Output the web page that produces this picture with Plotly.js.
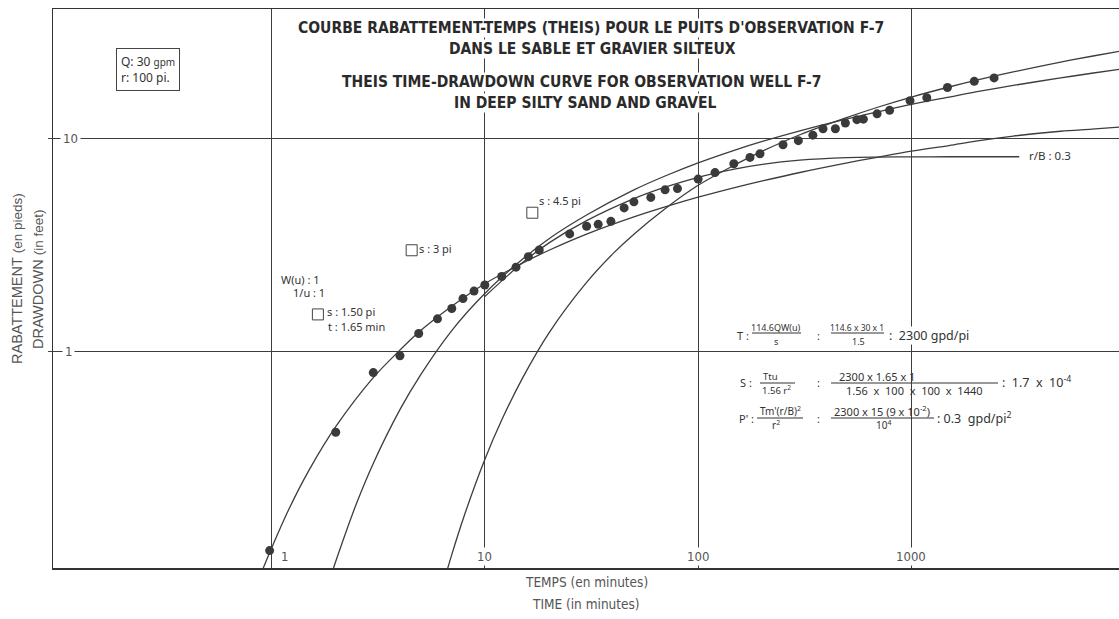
<!DOCTYPE html>
<html>
<head>
<meta charset="utf-8">
<script src="https://cdn.plot.ly/plotly-3.0.1.min.js"></script>
<style>
  html, body { margin: 0; padding: 0; background: #ffffff; }
  #chart { width: 1119px; height: 619px; }
</style>
</head>
<body>
<div id="chart"></div>
<script>
// Observed drawdown in observation well F-7 (time in minutes, drawdown in feet)
const obsTime = [0.98, 2.0, 3.0, 4.0, 4.9, 6.0, 7.0, 7.9, 8.9, 10, 12, 14, 16, 18, 25,
  30, 34, 39, 45, 50, 60, 70, 80, 100, 120, 147, 175, 195, 250, 295,
  345, 385, 440, 490, 555, 595, 690, 790, 985, 1180, 1475, 1970, 2440];
const obsDrawdown = [0.117, 0.42, 0.80, 0.96, 1.22, 1.43, 1.60, 1.78, 1.93, 2.06, 2.26, 2.50, 2.80, 3.01, 3.58,
  3.89, 3.97, 4.10, 4.74, 5.06, 5.31, 5.76, 5.84, 6.47, 6.94, 7.64, 8.18, 8.51, 9.38, 9.80,
  10.4, 11.15, 11.15, 11.86, 12.3, 12.36, 13.1, 13.6, 15.1, 15.6, 17.4, 18.6, 19.3];

// Theis type curve laid on the first match point (s = 1.50 pi, t = 1.65 min)
const curveATime = [0.9, 1, 1.2, 1.5, 2, 3, 4, 5, 7, 10, 15, 20, 30, 50, 70, 100, 150, 200, 300, 500, 700, 1000, 1500, 2000, 3000, 5000, 7000, 9500];
const curveAS = [0.093, 0.120, 0.181, 0.279, 0.446, 0.758, 1.02, 1.26, 1.64, 2.09, 2.61, 3.00, 3.57, 4.30, 4.79, 5.32, 5.92, 6.34, 6.95, 7.71, 8.21, 8.75, 9.30, 9.75, 10.3, 10.85, 11.1, 11.35];

// Type curve on the second match point (s = 3 pi)
const curveBTime = [1.9, 2, 2.5, 3, 4, 5, 7, 10, 15, 20, 30, 50, 70, 100, 150, 200, 300, 500, 700, 1000, 1500, 2000, 3000, 5000, 7000, 9500];
const curveBS = [0.089, 0.104, 0.194, 0.300, 0.536, 0.781, 1.26, 1.88, 2.72, 3.40, 4.39, 5.76, 6.69, 7.71, 8.88, 9.72, 10.9, 12.4, 13.4, 14.5, 15.7, 16.6, 17.8, 19.3, 20.3, 21.2];

// Type curve on the third match point (s = 4.5 pi)
const curveCTime = [6.5, 7, 8, 10, 12, 15, 20, 30, 40, 50, 70, 100, 150, 200, 300, 500, 700, 1000, 1500, 2000, 3000, 5000, 7000, 9500];
const curveCS = [0.087, 0.112, 0.170, 0.313, 0.479, 0.752, 1.23, 2.12, 2.90, 3.57, 4.70, 6.05, 7.58, 8.75, 10.45, 12.6, 14.1, 15.7, 17.5, 18.8, 20.6, 22.9, 24.4, 25.75];

// Leaky-aquifer curve, r/B = 0.3
const leakyTime = [10, 15, 20, 30, 50, 70, 100, 150, 200, 300, 500, 700, 1000, 1500, 2000, 3200];
const leakyS = [1.82, 2.62, 3.25, 4.13, 5.24, 5.93, 6.60, 7.23, 7.59, 7.94, 8.16, 8.21, 8.23, 8.24, 8.24, 8.24];

// Match points
const matchTime = [1.65, 4.54, 16.7];
const matchS = [1.5, 3, 4.5];

// Axis ticks
const xTickVals = [1, 10, 100, 1000];
const xTickText = ['1', '10', '100', '1000'];
const yTickVals = [1, 10];
const yTickText = ['1', '10'];

const X_RANGE = [-1.0243, 3.973];
const Y_RANGE = [-1.0136, 1.609];

const W = 1119, H = 619;
const M = { l: 53, r: 0, t: 9, b: 51 };
const PW = W - M.l - M.r, PH = H - M.t - M.b;

// page pixel -> paper fraction
const px = x => (x - M.l) / PW;
const py = y => (H - M.b - y) / PH;
// data value -> paper fraction through the log axes
const xv = v => (Math.log10(v) - X_RANGE[0]) / (X_RANGE[1] - X_RANGE[0]);
const yv = v => (Math.log10(v) - Y_RANGE[0]) / (Y_RANGE[1] - Y_RANGE[0]);

const INK = '#333333';
const LINE = '#3d3d3d';
const NARROW = '"Liberation Sans Narrow", "DejaVu Sans Condensed", "Roboto", sans-serif';
const ROUND = '"Noto Sans", "DejaVu Sans", sans-serif';
const PLAIN = '"Liberation Sans", Arial, sans-serif';
const SP = '\u00a0';

const curveStyle = { color: LINE, width: 1.3, shape: 'spline', smoothing: 0.9 };

const traces = [
  { x: curveATime, y: curveAS, mode: 'lines', line: curveStyle, hoverinfo: 'skip' },
  { x: curveBTime, y: curveBS, mode: 'lines', line: curveStyle, hoverinfo: 'skip' },
  { x: curveCTime, y: curveCS, mode: 'lines', line: curveStyle, hoverinfo: 'skip' },
  { x: leakyTime, y: leakyS, mode: 'lines', line: curveStyle, hoverinfo: 'skip' },
  { x: obsTime, y: obsDrawdown, mode: 'markers',
    marker: { color: '#3a3a3a', size: 9, line: { width: 0 } } },
  { x: matchTime, y: matchS, mode: 'markers',
    marker: { symbol: 'square-open', color: '#444', size: 11, line: { width: 1, color: '#444' } } }
];

const ann = [];
function txt(text, x, y, opts) {
  ann.push(Object.assign({
    text: text, xref: 'paper', yref: 'paper', x: px(x), y: py(y),
    showarrow: false, xanchor: 'center', yanchor: 'middle',
    font: { family: ROUND, size: 10, color: INK }, borderpad: 0
  }, opts || {}));
}
const f = (size, family) => ({ family: family || ROUND, size: size, color: INK });

// Title block
const titleFont = { family: NARROW, size: 15.5, color: '#2a2a2a', weight: 'bold' };
txt("COURBE RABATTEMENT-TEMPS (THEIS) POUR LE PUITS D'OBSERVATION F-7", 591, 28, { font: titleFont, bgcolor: '#fff' });
txt('DANS LE SABLE ET GRAVIER SILTEUX', 592, 49, { font: titleFont, bgcolor: '#fff' });
txt('THEIS TIME-DRAWDOWN CURVE FOR OBSERVATION WELL F-7', 582, 82, { font: titleFont, bgcolor: '#fff' });
txt('IN DEEP SILTY SAND AND GRAVEL', 585, 103, { font: titleFont, bgcolor: '#fff' });

// Pumping rate / distance box
txt("Q: 30 <span style='font-size:10px'>gpm</span><br>r: 100 pi.", 148, 69, {
  font: f(12), align: 'left',
  bordercolor: '#444', borderwidth: 1, borderpad: 4, bgcolor: '#fff'
});

// Tick labels drawn inside the frame
xTickVals.forEach((v, i) => {
  ann.push({
    text: xTickText[i], xref: 'paper', yref: 'paper', x: xv(v), y: py(556),
    xshift: i === 0 ? 13 : 0, showarrow: false, xanchor: 'center', yanchor: 'middle',
    font: { family: NARROW, size: 13, color: '#555' }, bgcolor: '#fff', borderpad: 1
  });
});
yTickVals.forEach((v, i) => {
  ann.push({
    text: yTickText[i], xref: 'paper', yref: 'paper', x: px(i === 0 ? 68 : 70), y: yv(v),
    showarrow: false, xanchor: 'center', yanchor: 'middle',
    font: { family: NARROW, size: 13, color: '#555' }, bgcolor: '#fff', borderpad: 2
  });
});

// Axis titles
const axFont = { family: NARROW, size: 13.5, color: '#555' };
txt('TEMPS (en minutes)', 586, 582, { font: axFont });
txt('TIME (in minutes)', 586, 604, { font: axFont });
const yFont = { family: PLAIN, size: 14.5, color: '#555' };
txt("RABATTEMENT <span style='font-size:13.5px'>(en pieds)</span>", 17, 279, { font: yFont, textangle: -90 });
txt("DRAWDOWN <span style='font-size:13.5px'>(in feet)</span>", 38, 280, { font: yFont, textangle: -90 });

// Match point notes
txt('W(u) : 1', 300, 279, { font: f(11) });
txt('1/u : 1', 309, 292, { font: f(11) });
txt('s : 1.50 pi', 326, 311, { xanchor: 'left', font: f(11) });
txt('t : 1.65 min', 327, 326, { xanchor: 'left', font: f(11) });
txt('s : 3 pi', 418, 248, { xanchor: 'left', font: f(11) });
txt('s : 4.5 pi', 538, 200, { xanchor: 'left', font: f(11) });
txt('r/B : 0.3', 1028, 156, { xanchor: 'left', font: f(11.5) });

// Aquifer constants
const X = SP + 'x' + SP;
const XX = SP + SP + 'x' + SP + SP;
txt('T :', 743, 335, { font: f(11) });
txt('114.6QW(u)', 776, 327, { font: f(9) });
txt('s', 776, 341, { font: f(9) });
txt(':', 818, 335, { font: f(11) });
txt('114.6 x 30 x 1', 857, 327, { font: f(8.5) });
txt('1.5', 858, 341, { font: f(9) });
txt(':' + SP + SP + '2300 gpd/pi', 888, 335, { xanchor: 'left', font: f(12.5), bgcolor: '#fff' });

txt('S :', 746, 382, { font: f(11) });
txt('Ttu', 770, 376, { font: f(9.5) });
txt('1.56 r<sup>2</sup>', 777, 390, { font: f(9.5) });
txt(':', 818, 382, { font: f(11) });
txt('2300' + X + '1.65' + X + '1', 877, 376, { font: f(11) });
txt('1.56' + XX + '100' + XX + '100' + XX + '1440', 914, 390, { font: f(11) });
txt(':' + SP + SP + '1.7' + XX + '10<sup>-4</sup>', 1001, 382, { xanchor: 'left', font: f(12.5) });

txt("P' :", 746, 418, { font: f(11) });
txt("Tm'(r/B)<sup>2</sup>", 780, 411, { font: f(10) });
txt('r<sup>2</sup>', 776, 425, { font: f(10) });
txt(':', 818, 418, { font: f(11) });
txt('2300' + X + '15 (9' + X + '10<sup>-2</sup>)', 882, 411, { font: f(11) });
txt('10<sup>4</sup>', 883, 425, { font: f(10) });
txt(':' + SP + '0.3' + SP + SP + 'gpd/pi<sup>2</sup>', 936, 418, { xanchor: 'left', font: f(12.5) });

// Fraction bars and the blank behind the constants
const bar = (x0, x1, y) => ({
  type: 'line', xref: 'paper', yref: 'paper', x0: px(x0), x1: px(x1), y0: py(y), y1: py(y),
  line: { color: INK, width: 1 }
});
const shapes = [
  { type: 'rect', xref: 'paper', yref: 'paper', x0: px(828), x1: px(1000), y0: py(432), y1: py(362),
    fillcolor: '#fff', line: { width: 0 }, layer: 'between' },
  bar(752, 801, 333), bar(831, 884, 333),
  bar(760, 795, 383), bar(831, 998, 383),
  bar(757, 803, 418), bar(831, 934, 418)
];

const layout = {
  width: W, height: H,
  margin: M,
  paper_bgcolor: '#fff', plot_bgcolor: '#fff',
  showlegend: false,
  xaxis: {
    type: 'log', range: X_RANGE, tickvals: xTickVals, showticklabels: false,
    showgrid: true, gridcolor: '#3d3d3d', gridwidth: 1, zeroline: false,
    showline: true, linecolor: '#333', linewidth: 1.5, mirror: true, ticks: ''
  },
  yaxis: {
    type: 'log', range: Y_RANGE, tickvals: yTickVals, showticklabels: false,
    showgrid: true, gridcolor: '#3d3d3d', gridwidth: 1, zeroline: false,
    showline: true, linecolor: '#333', linewidth: 1.5, mirror: false,
    ticks: 'outside', ticklen: 4, tickcolor: '#444', tickwidth: 1
  },
  annotations: ann,
  shapes: shapes
};

Plotly.newPlot('chart', traces, layout, { displayModeBar: false, staticPlot: true });
</script>
</body>
</html>
